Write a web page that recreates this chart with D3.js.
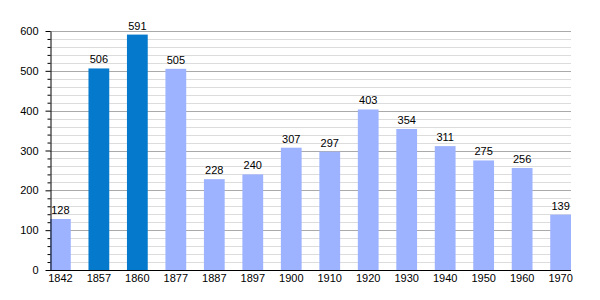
<!DOCTYPE html>
<html>
<head>
<meta charset="utf-8">
<script src="https://cdn.jsdelivr.net/npm/d3@7.9.0/dist/d3.min.js"></script>
<style>
  body { margin: 0; background: #fff; }
  text { font-family: "Liberation Sans", Arial, sans-serif; font-size: 11px; fill: #000; }
</style>
</head>
<body>
<svg width="600" height="300"></svg>
<script>
// population by census year
const years = ['1842', '1857', '1860', '1877', '1887', '1897', '1900', '1910', '1920', '1930', '1940', '1950', '1960', '1970'];
const population = [128, 506, 591, 505, 228, 240, 307, 297, 403, 354, 311, 275, 256, 139];
const highlighted = ['1857', '1860'];
const yTicks = [0, 100, 200, 300, 400, 500, 600];

const svg = d3.select('svg');
const mLeft = 50, mRight = 571, mTop = 31, mBottom = 270;

const x = d3.scaleBand().domain(years).range([mLeft, mRight]).paddingInner(0.46).paddingOuter(0);
const y = d3.scaleLinear().domain([0, 600]).range([mBottom, mTop]);

// minor grid every 20
const minor = d3.range(20, 601, 20).filter(v => v % 100 !== 0);
svg.append('g').selectAll('line').data(minor).join('line')
  .attr('x1', mLeft).attr('x2', mRight)
  .attr('y1', d => Math.round(y(d)) + 0.5).attr('y2', d => Math.round(y(d)) + 0.5)
  .attr('stroke', '#dcdcdc');

// major grid
svg.append('g').selectAll('line').data(yTicks.slice(1)).join('line')
  .attr('x1', mLeft).attr('x2', mRight)
  .attr('y1', d => Math.round(y(d)) + 0.5).attr('y2', d => Math.round(y(d)) + 0.5)
  .attr('stroke', '#aaaaaa');

// bars
svg.append('g').selectAll('rect').data(years).join('rect')
  .attr('x', d => x(d))
  .attr('y', (d, i) => y(population[i]))
  .attr('width', x.bandwidth())
  .attr('height', (d, i) => mBottom - y(population[i]))
  .attr('fill', d => highlighted.includes(d) ? '#0579cc' : '#9db3ff');

// value labels
svg.append('g').selectAll('text').data(years).join('text')
  .attr('x', d => x(d) + x.bandwidth() / 2)
  .attr('y', (d, i) => y(population[i]) - 5)
  .attr('text-anchor', 'middle')
  .text((d, i) => population[i]);

// y axis with minor ticks
svg.append('g')
  .attr('transform', `translate(${mLeft + 0.5},0)`)
  .call(d3.axisLeft(y).tickValues(minor).tickSize(3).tickFormat(''))
  .call(g => g.select('.domain').remove());
svg.append('g')
  .attr('transform', `translate(${mLeft + 0.5},0)`)
  .call(d3.axisLeft(y).tickValues(yTicks).tickSize(5).tickSizeOuter(0).tickPadding(7))
  .call(g => g.selectAll('text').style('font-size', '11px').style('font-family', '"Liberation Sans", Arial, sans-serif'));

// x axis
svg.append('g')
  .attr('transform', `translate(0,${mBottom + 0.5})`)
  .call(d3.axisBottom(x).tickSize(0).tickPadding(4))
  .call(g => g.select('.domain').attr('d', `M${mLeft},0H${mRight}`))
  .call(g => g.selectAll('text').style('font-size', '11px').style('font-family', '"Liberation Sans", Arial, sans-serif'));
</script>
</body>
</html>
